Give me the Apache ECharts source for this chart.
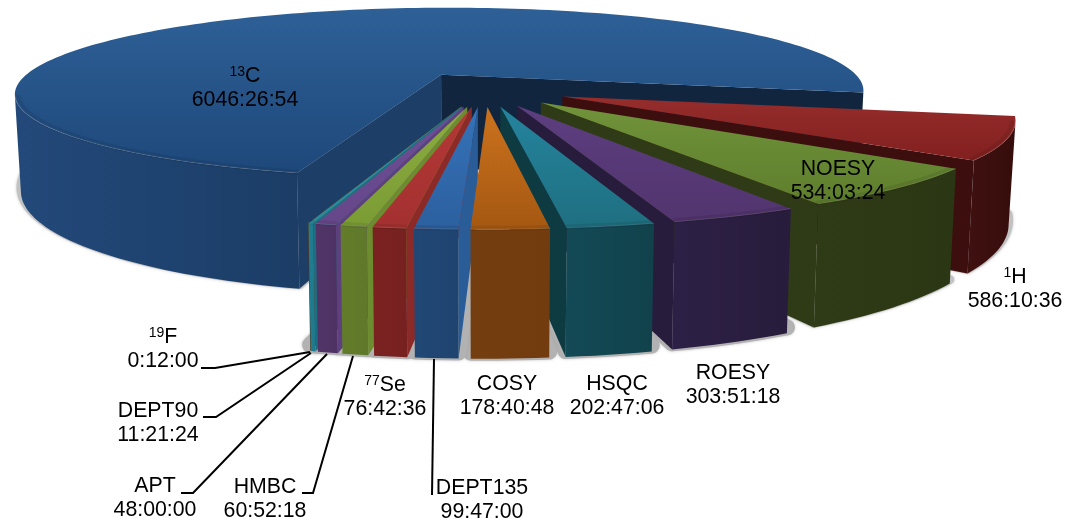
<!DOCTYPE html>
<html><head><meta charset="utf-8">
<style>html,body{margin:0;padding:0;background:#fff}#c{width:1068px;height:523px}</style>
<script src="https://cdn.jsdelivr.net/npm/echarts@6/dist/echarts.min.js"></script>
</head><body><div id="c"></div>
<script>
// ---- data (clockwise, starting with the slice after 13C's east edge) ----
const categories = ['1H','NOESY','ROESY','HSQC','COSY','DEPT135','77Se','HMBC','APT','DEPT90','19F','13C'];
const durations  = ['586:10:36','534:03:24','303:51:18','202:47:06','178:40:48','99:47:00','76:42:36','60:52:18','48:00:00','11:21:24','0:12:00','6046:26:54'];
// ---- colours: [top light, top dark, outer wall light, outer wall dark, side wall] ----
const colours = [
 ['#952d2b','#82201f','#3f1110','#360d0c','#3c0f0e'],
 ['#71933a','#5e7e2d','#2f3b16','#2b3614','#2f3b16'],
 ['#5d3e80','#52346e','#2d2046','#281c3c','#281c3c'],
 ['#24849d','#1f6f80','#134a56','#11424c','#0e3a42'],
 ['#cb721e','#a55812','#753e10','#723c0f','#5c300c'],
 ['#3572b8','#2c609f','#214775','#1f4470','#2a5c98'],
 ['#b43836','#a33130','#7b2221','#762120','#8c2a28'],
 ['#8cac3f','#7a9c34','#627c2b','#5f782a','#6d8c2f'],
 ['#6f4e96','#664789','#513568','#4e3264','#5f407e'],
 ['#2b92a8','#278a9f','#217e92','#1f788c','#1d6f82'],
 ['#cb721e','#a55812','#753e10','#723c0f','#5c300c'],
 ['#2e6097','#1e487a','#23497a','#1b3d66','#1c3e67']
];
// ---- projection parameters ----
const cx=484, cy=89, H=405, D=2000, Wall=96, R=430, Explode=85, FirstAngle=102, BottomScale=0.987;
const yh=cy-H;

const seconds = durations.map(s=>{const p=s.split(':').map(Number);return p[0]*3600+p[1]*60+p[2];});
const total = seconds.reduce((a,b)=>a+b,0);
const spans=[]; let acc=FirstAngle;
seconds.forEach(v=>{const a=v/total*360; spans.push([acc,acc+a]); acc+=a;});

const rad=d=>d*Math.PI/180;
const dir=d=>[Math.sin(rad(d)),-Math.cos(rad(d))];
function pt(X,Y,low){
  const s=1/(1-Y/D);
  return low?[cx+X*s*BottomScale,yh+(H+Wall)*s]:[cx+X*s,yh+H*s];
}
function geom(i,radius){
  const [a,b]=spans[i], m=(a+b)/2, dm=dir(m);
  const ax=Explode*dm[0], ay=Explode*dm[1];
  const arc=[]; const n=Math.max(2,Math.ceil((b-a)/1.5));
  for(let k=0;k<=n;k++){const t=a+(b-a)*k/n,d=dir(t);arc.push({t,X:ax+radius*d[0],Y:ay+radius*d[1],d});}
  return {a,b,m,ax,ay,arc};
}
const grad=(c1,c2,h)=>h?new echarts.graphic.LinearGradient(0,0,1,0,[{offset:0,color:c1},{offset:1,color:c2}])
                      :new echarts.graphic.LinearGradient(0,0,0,1,[{offset:0,color:c1},{offset:1,color:c2}]);

function renderShadow(params,api){
  const g=geom(params.dataIndex,R);
  const central=Math.abs((g.m%360)-180)<30;
  const up=central?6:4, w=central?16:9, col=central?'#b2b2b2':'#c2c2c2';
  const pts=[pt(g.ax,g.ay,true)].concat(g.arc.map(p=>pt(p.X,p.Y,true))).map(p=>[p[0],p[1]-up]);
  return {type:'polygon',shape:{points:pts},style:{fill:col,stroke:col,lineWidth:w,lineJoin:'round',shadowBlur:3,shadowColor:'rgba(150,150,150,0.5)'},silent:true};
}
function renderSlice(params,api){
  const i=params.dataIndex, c=colours[i], g=geom(i,R);
  const base=Math.round((200-Math.abs(((g.m%360)-180)))*10);
  const kids=[];
  const visible=(nx,ny,X,Y)=>nx*(0-X)+ny*(D-Y)>0;
  // side walls
  [[g.a,g.a-90],[g.b,g.b+90]].forEach(([edge,nAng],k)=>{
    const n=dir(nAng);
    if(!visible(n[0],n[1],g.ax,g.ay))return;
    const e=dir(edge), ox=g.ax+R*e[0], oy=g.ay+R*e[1];
    const isEast=(i===11&&k===1);
    kids.push({type:'polygon',z2:base,shape:{points:[pt(g.ax,g.ay),pt(ox,oy),pt(ox,oy,true),pt(g.ax,g.ay,true)]},
      style:{fill:isEast?'#12253f':c[4]},silent:true});
  });
  // outer wall, one polygon per contiguous camera-facing run
  const runs=[];let run=null;
  g.arc.forEach(p=>{
    if(visible(p.d[0],p.d[1],p.X,p.Y)){if(!run){run=[];runs.push(run);}run.push(p);}else run=null;
  });
  runs.forEach(r=>{
    if(r.length<2)return;
    const top=r.map(p=>pt(p.X,p.Y)),low=r.map(p=>pt(p.X,p.Y,true)).reverse();
    kids.push({type:'polygon',z2:base+1,shape:{points:top.concat(low)},
      style:{fill:grad(c[2],c[3],true)},silent:true});
  });
  // top face
  kids.push({type:'polygon',z2:base+2,shape:{points:[pt(g.ax,g.ay)].concat(g.arc.map(p=>pt(p.X,p.Y)))},
    style:{fill:grad(c[0],c[1],false)},silent:true});
  // rim bevel on the camera-facing part
  const gi=geom(i,R-3), gl=geom(i,R-0.6);
  const rimRuns=(gg)=>{const out=[];let rr=null;gg.arc.forEach(p=>{
    const v=visible(p.d[0],p.d[1],p.X,p.Y);
    if(v){if(!rr){rr=[];out.push(rr);}rr.push(pt(p.X,p.Y));}else rr=null;});return out;};
  rimRuns(gi).forEach(pts=>{if(pts.length>1)kids.push({type:'polyline',z2:base+3,shape:{points:pts},
    style:{fill:null,stroke:'rgba(0,0,0,0.08)',lineWidth:5},silent:true});});
  rimRuns(gl).forEach(pts=>{if(pts.length>1)kids.push({type:'polyline',z2:base+4,shape:{points:pts},
    style:{fill:null,stroke:'rgba(255,255,255,0.10)',lineWidth:1},silent:true});});
  return {type:'group',children:kids};
}

// ---- label placement: centre of the two-line label, per category ----
const labelAt={'13C':[245,88],'NOESY':[838,181],'1H':[1015,289],'ROESY':[733,385],'HSQC':[617,396],'COSY':[507,396],
  '77Se':[385,397],'19F':[163,349],'DEPT90':[158,423],'APT':[155,498],'HMBC':[265,499],'DEPT135':[482,500]};
const leaders={'19F':[[201,368],[215,368],[310,352]],'DEPT90':[[203,417],[216,417],[311,353]],
  'APT':[[181,493],[193,493],[327,354]],'HMBC':[[302,493],[313,493],[353,356]],'DEPT135':[[432,495],[434,359]]};

const graphics=[];
categories.forEach((name,i)=>{
  const m=name.match(/^(\d+)(.*)$/);
  const first=m?`{sup|${m[1]}}{b|${m[2]}}`:`{b|${name}}`;
  graphics.push({type:'text',z:50,x:labelAt[name][0],y:labelAt[name][1],silent:true,style:{
    text:first+'\n{b|'+durations[i]+'}',align:'center',verticalAlign:'middle',
    rich:{b:{fontFamily:'Liberation Sans',fontSize:21.3,lineHeight:24.5,fill:'#000',color:'#000'},
          sup:{fontFamily:'Liberation Sans',fontSize:14,lineHeight:24.5,fill:'#000',color:'#000',padding:[0,0,7,0]}}
  }});
  if(leaders[name])graphics.push({type:'polyline',z:49,silent:true,shape:{points:leaders[name]},style:{fill:null,stroke:'#000',lineWidth:2}});
});

const chart=echarts.init(document.getElementById('c'),null,{renderer:'canvas',width:1068,height:523});
chart.setOption({
  animation:false,backgroundColor:'#fff',
  graphic:graphics,
  series:[
    {type:'custom',coordinateSystem:'none',z:1,silent:true,data:seconds,renderItem:renderShadow},
    {type:'custom',coordinateSystem:'none',z:2,silent:true,data:seconds,renderItem:renderSlice}
  ]
});
</script></body></html>
